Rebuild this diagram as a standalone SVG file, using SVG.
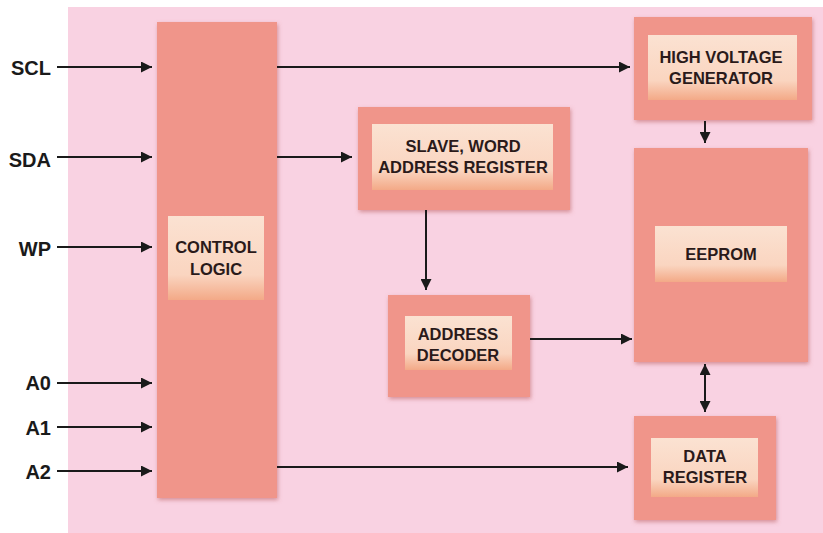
<svg xmlns="http://www.w3.org/2000/svg" width="823" height="533" viewBox="0 0 823 533">
<style>
.pin{font-family:"Liberation Sans",Arial,sans-serif;font-weight:bold;font-size:20px;fill:#1a1a1a;text-anchor:end}
.lbl{font-family:"Liberation Sans",Arial,sans-serif;font-weight:bold;font-size:16.5px;fill:#2a1a1a;text-anchor:middle}
.outer{fill:#f0958a;filter:url(#sh)}
.inner{fill:url(#ig)}
.wire{stroke:#1a1a1a;stroke-width:2;fill:none;marker-end:url(#ah)}
</style>
<defs>
<linearGradient id="ig" x1="0" y1="0" x2="0" y2="1">
<stop offset="0" stop-color="#fbe2d2"/>
<stop offset="0.7" stop-color="#fad5c0"/>
<stop offset="1" stop-color="#f3a987"/>
</linearGradient>
<filter id="sh" x="-10%" y="-10%" width="120%" height="120%">
<feDropShadow dx="1" dy="2" stdDeviation="2" flood-color="#b85a5a" flood-opacity="0.55"/>
</filter>
<marker id="ah" viewBox="0 0 10 10" refX="10" refY="5" markerWidth="5.5" markerHeight="5.5" orient="auto-start-reverse" markerUnits="strokeWidth">
<path d="M0,0 L10,5 L0,10 z" fill="#1a1a1a"/>
</marker>
</defs>
<rect x="0" y="0" width="823" height="533" fill="#ffffff"/>
<rect x="68" y="7" width="755" height="526" fill="#f9d2e2"/>

<g id="control-logic">
<rect class="outer" x="157" y="22" width="120" height="476"/>
<rect class="inner" x="168" y="216" width="96" height="84"/>
<text class="lbl" x="216" y="253">CONTROL</text>
<text class="lbl" x="216" y="275">LOGIC</text>
</g>
<g id="slave-word-address-register">
<rect class="outer" x="358" y="107" width="212" height="103"/>
<rect class="inner" x="372" y="124" width="181" height="66"/>
<text class="lbl" x="463" y="152">SLAVE, WORD</text>
<text class="lbl" x="463" y="173">ADDRESS REGISTER</text>
</g>
<g id="high-voltage-generator">
<rect class="outer" x="634" y="17" width="178" height="103"/>
<rect class="inner" x="648" y="35" width="149" height="65"/>
<text class="lbl" x="721" y="63">HIGH VOLTAGE</text>
<text class="lbl" x="721" y="84">GENERATOR</text>
</g>
<g id="eeprom">
<rect class="outer" x="634" y="148" width="174" height="214"/>
<rect class="inner" x="655" y="226" width="132" height="56"/>
<text class="lbl" x="721" y="260">EEPROM</text>
</g>
<g id="address-decoder">
<rect class="outer" x="388" y="295" width="142" height="102"/>
<rect class="inner" x="405" y="316" width="107" height="54"/>
<text class="lbl" x="458" y="340">ADDRESS</text>
<text class="lbl" x="458" y="361">DECODER</text>
</g>
<g id="data-register">
<rect class="outer" x="634" y="416" width="142" height="104"/>
<rect class="inner" x="651" y="438" width="107" height="59"/>
<text class="lbl" x="705" y="462">DATA</text>
<text class="lbl" x="705" y="483">REGISTER</text>
</g>

<g id="pins">
<text class="pin" x="51" y="75">SCL</text>
<text class="pin" x="51" y="167">SDA</text>
<text class="pin" x="51" y="256">WP</text>
<text class="pin" x="51" y="390">A0</text>
<text class="pin" x="51" y="435">A1</text>
<text class="pin" x="51" y="479">A2</text>
</g>

<g id="connectors">
<line class="wire" x1="57" y1="67" x2="152" y2="67"/>
<line class="wire" x1="57" y1="157" x2="152" y2="157"/>
<line class="wire" x1="57" y1="247" x2="152" y2="247"/>
<line class="wire" x1="57" y1="383" x2="152" y2="383"/>
<line class="wire" x1="57" y1="427" x2="152" y2="427"/>
<line class="wire" x1="57" y1="471" x2="152" y2="471"/>
<line class="wire" x1="277" y1="67" x2="630" y2="67"/>
<line class="wire" x1="277" y1="157" x2="352" y2="157"/>
<line class="wire" x1="277" y1="467" x2="628" y2="467"/>
<line class="wire" x1="426" y1="210" x2="426" y2="290"/>
<line class="wire" x1="530" y1="339" x2="632" y2="339"/>
<line class="wire" x1="705" y1="121" x2="705" y2="143"/>
<line class="wire" x1="705" y1="364" x2="705" y2="412" marker-start="url(#ah)"/>
</g>
</svg>
